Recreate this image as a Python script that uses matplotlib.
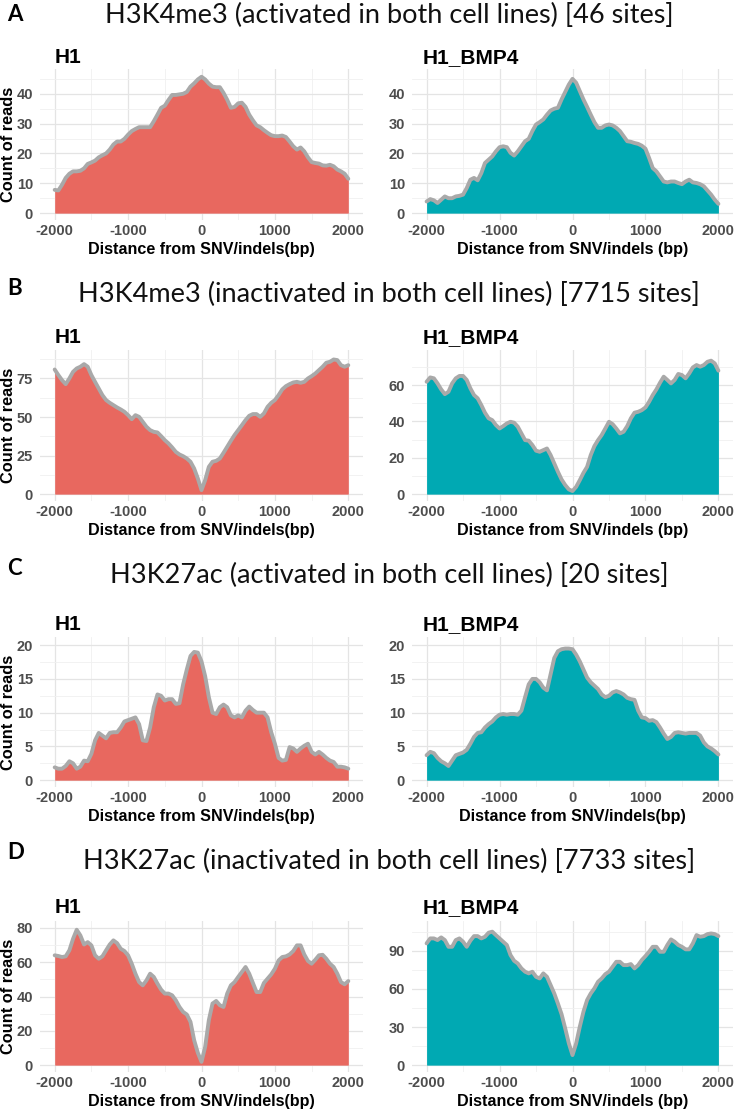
import matplotlib
matplotlib.use('Agg')
import matplotlib.pyplot as plt
from matplotlib.ticker import MultipleLocator

plt.rcParams['font.family'] = ['Liberation Sans', 'DejaVu Sans']
plt.rcParams['axes.unicode_minus'] = False

# distance from SNV/indels (bp), read every 50 bp
distance = list(range(-2000, 2001, 50))

# A: H3K4me3 activated
k4_act_h1 = [7.8, 7.6, 9.5, 11.8, 13.2, 14.0, 14.0, 14.2, 15.0, 16.5, 17.0,
             17.6, 18.7, 19.4, 20.0, 21.3, 23.0, 24.0, 24.0, 24.9, 26.3,
             27.5, 28.2, 28.8, 28.8, 28.8, 28.8, 30.8, 33.0, 35.3, 36.0,
             37.9, 39.6, 39.6, 39.8, 40.0, 40.6, 42.4, 43.5, 44.8, 45.7,
             44.8, 43.4, 42.4, 42.2, 42.2, 40.3, 38.0, 35.3, 35.6, 36.8,
             37.0, 35.6, 33.0, 31.1, 29.4, 28.8, 27.8, 26.9, 26.1, 25.8,
             25.8, 26.0, 25.5, 24.0, 22.4, 21.3, 22.0, 20.7, 18.7, 17.1,
             16.8, 16.6, 16.0, 15.9, 16.2, 15.7, 14.6, 14.0, 13.2, 11.5]
k4_act_bmp4 = [3.9, 4.7, 4.3, 3.4, 4.5, 5.6, 5.0, 5.0, 5.6, 5.8, 6.2,
               8.4, 11.2, 11.8, 11.0, 13.4, 16.8, 17.9, 19.0, 20.7, 22.1,
               22.4, 22.1, 20.2, 19.3, 20.7, 22.4, 24.1, 24.9, 27.5, 29.7,
               30.5, 31.4, 33.0, 34.4, 35.0, 35.3, 38.1, 40.6, 43.1, 45.0,
               43.7, 40.9, 38.1, 35.6, 33.0, 30.5, 28.6, 28.6, 29.4, 29.7,
               29.4, 28.6, 27.5, 25.8, 24.1, 23.9, 23.5, 23.2, 22.6, 21.6,
               18.5, 15.1, 14.0, 12.3, 10.6, 10.3, 10.6, 10.6, 10.1, 9.7,
               10.6, 11.2, 10.3, 10.1, 9.7, 9.0, 7.6, 6.2, 4.5, 3.1]

# B: H3K4me3 inactivated
k4_inact_h1 = [80.8, 77.2, 73.9, 71.3, 75.0, 79.3, 81.5, 82.6, 84.3, 82.6, 77.2,
               72.8, 68.5, 64.2, 61.0, 59.2, 57.7, 56.2, 54.9, 53.4, 51.2,
               48.6, 51.2, 50.1, 46.9, 43.7, 41.5, 40.4, 40.0, 37.6, 35.0,
               32.9, 30.3, 27.4, 25.7, 24.6, 23.1, 21.0, 16.6, 10.2, 2.6,
               9.1, 17.7, 21.0, 21.6, 23.1, 26.8, 30.7, 34.6, 38.3, 41.5,
               44.7, 48.0, 50.8, 51.9, 51.9, 50.1, 52.3, 56.6, 59.2, 61.0,
               64.2, 67.9, 70.0, 71.3, 72.4, 72.8, 72.2, 72.8, 75.0, 76.5,
               78.2, 80.4, 82.6, 85.2, 85.8, 87.3, 86.9, 83.6, 82.6, 83.6]
k4_inact_bmp4 = [61.8, 64.2, 63.7, 60.9, 57.6, 55.0, 56.3, 60.9, 63.7, 65.0, 65.0,
                 62.8, 58.2, 54.5, 52.7, 49.0, 44.8, 41.7, 40.7, 38.0, 36.1,
                 37.4, 38.9, 39.8, 39.3, 37.1, 33.4, 29.7, 29.4, 27.0, 23.9,
                 23.3, 24.2, 25.1, 21.5, 16.9, 12.3, 8.1, 5.0, 2.6, 1.7,
                 4.0, 7.7, 11.7, 15.0, 21.5, 26.4, 29.7, 32.5, 36.1, 39.8,
                 38.5, 36.1, 33.4, 34.3, 37.4, 41.7, 44.8, 45.3, 46.2, 47.7,
                 50.8, 54.5, 57.6, 61.3, 64.6, 62.8, 60.9, 62.8, 66.1, 65.5,
                 63.7, 66.4, 69.7, 71.0, 70.1, 71.0, 72.8, 73.4, 71.9, 67.9]

# C: H3K27ac activated
k27_act_h1 = [1.9, 1.7, 1.7, 2.1, 2.8, 2.5, 1.7, 2.0, 2.9, 2.8, 3.9,
              5.9, 7.0, 6.6, 6.2, 7.0, 7.1, 7.1, 7.8, 8.7, 8.9,
              9.1, 9.3, 8.3, 5.9, 5.8, 7.8, 10.8, 12.7, 12.5, 11.8,
              12.0, 12.0, 11.3, 11.4, 14.2, 16.4, 18.4, 19.0, 18.9, 17.6,
              15.4, 12.3, 10.0, 9.8, 10.8, 11.2, 10.8, 9.6, 9.3, 9.6,
              9.3, 10.3, 10.9, 10.4, 10.0, 10.0, 10.0, 9.3, 7.1, 5.4,
              3.3, 2.9, 3.0, 4.9, 4.7, 4.2, 4.7, 5.1, 5.4, 4.2,
              3.8, 4.2, 3.8, 3.3, 2.9, 2.7, 2.0, 2.0, 1.9, 1.7]
k27_act_bmp4 = [3.7, 4.2, 4.0, 3.3, 2.8, 2.5, 2.1, 2.9, 3.7, 3.9, 4.1,
                4.5, 5.4, 6.4, 7.0, 7.1, 7.8, 8.3, 8.7, 9.3, 9.7,
                9.8, 9.7, 9.8, 9.8, 9.7, 10.3, 12.3, 14.2, 15.0, 15.0,
                14.5, 13.7, 13.3, 15.7, 18.1, 19.1, 19.4, 19.5, 19.5, 19.4,
                18.6, 17.6, 16.4, 15.2, 14.5, 14.0, 13.5, 12.7, 12.3, 12.5,
                13.0, 13.2, 13.0, 12.7, 12.2, 12.0, 11.9, 10.3, 9.3, 9.2,
                8.8, 8.9, 8.6, 7.8, 6.9, 6.1, 6.4, 7.0, 7.1, 7.0,
                6.9, 7.0, 7.0, 7.0, 6.6, 5.6, 5.0, 4.7, 4.3, 3.8]

# D: H3K27ac inactivated
k27_inact_h1 = [64.0, 63.6, 63.0, 63.4, 66.9, 73.6, 78.9, 75.6, 70.3, 71.7, 69.8,
                64.0, 62.0, 63.4, 66.9, 70.3, 72.7, 71.1, 67.8, 66.5, 64.0,
                59.1, 53.3, 48.4, 46.5, 49.4, 53.3, 51.4, 47.5, 44.0, 41.7,
                41.7, 40.7, 37.8, 33.9, 31.0, 29.5, 25.2, 14.5, 7.2, 1.9,
                10.7, 26.2, 35.9, 37.4, 34.9, 33.9, 41.7, 46.5, 48.4, 51.4,
                54.3, 57.2, 53.3, 47.9, 42.6, 42.6, 47.9, 50.4, 52.9, 56.2,
                61.0, 63.0, 63.4, 64.5, 66.5, 69.8, 69.8, 64.5, 60.7, 59.1,
                61.4, 64.0, 64.3, 62.0, 59.1, 57.2, 53.3, 48.4, 47.1, 49.0]
k27_inact_bmp4 = [95.8, 99.7, 99.7, 98.4, 100.5, 98.4, 93.1, 93.1, 98.4, 99.7, 97.1,
                  93.1, 97.9, 101.5, 101.5, 99.7, 101.0, 104.2, 105.0, 102.3, 99.7,
                  97.1, 94.5, 86.6, 82.1, 80.0, 76.1, 73.5, 72.2, 73.5, 69.5,
                  68.2, 72.2, 69.5, 63.0, 56.4, 48.5, 40.1, 28.9, 17.1, 7.9,
                  17.1, 30.2, 42.0, 51.2, 56.4, 60.4, 65.6, 68.2, 71.6, 73.5,
                  77.4, 81.3, 81.3, 78.7, 78.7, 79.5, 76.1, 78.7, 82.7, 85.8,
                  89.2, 93.1, 93.1, 89.2, 89.2, 94.5, 98.9, 97.1, 94.5, 93.1,
                  91.1, 91.1, 95.8, 102.3, 101.0, 101.5, 103.1, 103.6, 103.1, 101.5]

letters = ['A', 'B', 'C', 'D']
titles = ['H3K4me3 (activated in both cell lines) [46 sites]',
          'H3K4me3 (inactivated in both cell lines) [7715 sites]',
          'H3K27ac (activated in both cell lines) [20 sites]',
          'H3K27ac (inactivated in both cell lines) [7733 sites]']
cells = ['H1', 'H1_BMP4']
series = [[k4_act_h1, k4_act_bmp4],
          [k4_inact_h1, k4_inact_bmp4],
          [k27_act_h1, k27_act_bmp4],
          [k27_inact_h1, k27_inact_bmp4]]
# highest bar in each panel (sets the y range) and y tick step
ymax = [[46, 46], [89, 75.5], [20.2, 20.2], [80, 108]]
ystep = [[10, 10], [25, 20], [5, 5], [20, 30]]
xlabels = [['Distance from SNV/indels(bp)', 'Distance from SNV/indels (bp)'],
           ['Distance from SNV/indels(bp)', 'Distance from SNV/indels (bp)'],
           ['Distance from SNV/indels(bp)', 'Distance from SNV/indels(bp)'],
           ['Distance from SNV/indels(bp)', 'Distance from SNV/indels (bp)']]

colors = ['#E8685F', '#00A9B3']
line_col = '#A9A9A9'

W, H = 739, 1111
fig = plt.figure(figsize=(W / 100, H / 100), dpi=100)


def rect(l, t, r, b):
    return [l / W, 1 - b / H, (r - l) / W, (b - t) / H]


def fy(py):
    return 1 - py / H


row_top = [69, 350, 637, 921]
row_bot = [220, 501, 787, 1072]
col_left = [40, 412]
col_right = [363, 733]
title_base = [23, 302, 583, 869]
letter_base = [21, 295, 575, 859]
sub_base = [63, 343, 630, 913]
sub_x = [55, 423]

for r in range(4):
    fig.text(7 / W, fy(letter_base[r]), letters[r], fontsize=16, fontweight='bold',
             family=['Lato', 'DejaVu Sans'], va='baseline', ha='left')
    fig.text(389 / W, fy(title_base[r]), titles[r], fontsize=19.5,
             family=['Lato', 'DejaVu Sans'], va='baseline', ha='center',
             color='#111111')
    for c in range(2):
        ax = fig.add_axes(rect(col_left[c], row_top[r], col_right[c], row_bot[r]))
        y = series[r][c]
        ax.fill_between(distance, 0, y, color=colors[c], lw=0, zorder=2)
        ax.plot(distance, y, color=line_col, lw=2.8, zorder=3,
                solid_joinstyle='round', solid_capstyle='round')
        ax.set_xlim(-2200, 2200)
        ax.set_ylim(-0.05 * ymax[r][c], 1.05 * ymax[r][c])
        ax.xaxis.set_major_locator(MultipleLocator(1000))
        ax.xaxis.set_minor_locator(MultipleLocator(500))
        ax.yaxis.set_major_locator(MultipleLocator(ystep[r][c]))
        ax.yaxis.set_minor_locator(MultipleLocator(ystep[r][c] / 2))
        ax.grid(which='major', color='#E4E4E4', lw=0.9)
        ax.grid(which='minor', color='#F0F0F0', lw=0.6)
        ax.set_axisbelow(True)
        for s in ax.spines.values():
            s.set_visible(False)
        ax.tick_params(which='both', length=0)
        ax.tick_params(axis='x', labelsize=10.5, labelcolor='#4D4D4D', pad=3)
        ax.tick_params(axis='y', labelsize=10.5, labelcolor='#4D4D4D', pad=5)
        for lab in ax.get_xticklabels() + ax.get_yticklabels():
            lab.set_fontweight('bold')
        cx = (col_left[c] + col_right[c]) / 2
        fig.text(cx / W, fy(row_bot[r] + 34), xlabels[r][c], fontsize=11.6,
                 fontweight='bold', ha='center', va='baseline')
        fig.text(sub_x[c] / W, fy(sub_base[r]), cells[c], fontsize=15,
                 fontweight='bold', ha='left', va='baseline')
        if c == 0:
            fig.text(9 / W, fy((row_top[r] + row_bot[r]) / 2), 'Count of reads',
                     fontsize=11.8, fontweight='bold', rotation=90,
                     ha='center', va='center')

fig.savefig('out.png', dpi=100)
